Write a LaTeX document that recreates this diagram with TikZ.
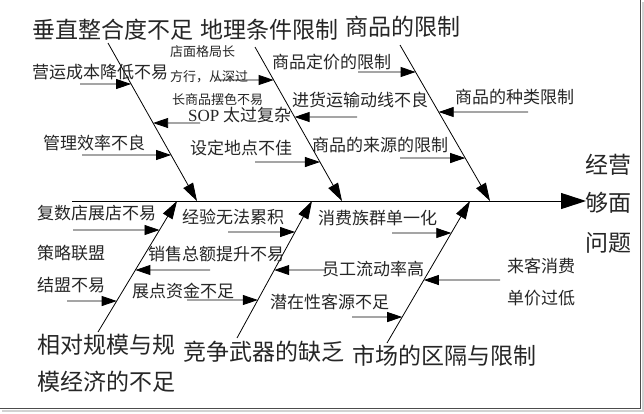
\documentclass[tikz,border=0pt]{standalone}
\usepackage{fontspec}
\setmainfont{Noto Sans CJK SC}
\newfontfamily\latinserif{Liberation Serif}
\usetikzlibrary{arrows.meta}
\newcommand\subarrow[4]{%
  \coordinate (#1s) at (#3,#4);
  \coordinate (#1t) at (intersection of #2s--#2e and 0,#4--1,#4);
  \draw[subarr] (#1s) -- (#1t);}
\begin{document}
\begin{tikzpicture}[x=1pt,y=-1pt,
  big/.style={font=\fontsize{23}{25}\selectfont, anchor=west, inner sep=0pt, text=black!85},
  mid/.style={font=\fontsize{17}{19}\selectfont, anchor=west, inner sep=0pt, text=black!85},
  small/.style={font=\fontsize{13}{15}\selectfont, anchor=west, inner sep=0pt, text=black!85},
  bone/.style={line width=0.8pt, -{Triangle[length=18pt,width=11pt]}},
  subarr/.style={line width=0.8pt, -{Triangle[length=15pt,width=10pt]}},
  spine/.style={line width=1pt, -{Triangle[length=25pt,width=16pt]}}]
\useasboundingbox (0,0) rectangle (644,413);
\fill[white] (0,0) rectangle (644,413);
% frame
\draw[gray!35, line width=2pt] (643,2) -- (643,411) -- (2,411);
\draw[black!70, line width=1.2pt] (640.5,0) -- (640.5,408.5) -- (0,408.5);
% spine
\coordinate (s0) at (72,201);
\coordinate (s1) at (586,201);
\draw[spine] (s0) -- (s1);
% bones
\coordinate (b1s) at (108,43);  \coordinate (b1e) at (197,201);
\coordinate (b2s) at (255,47);  \coordinate (b2e) at (342,201);
\coordinate (b3s) at (400,45);  \coordinate (b3e) at (490,201);
\coordinate (b4s) at (98,332);  \coordinate (b4e) at (177,201);
\coordinate (b5s) at (237,338); \coordinate (b5e) at (312,201);
\coordinate (b6s) at (387,343); \coordinate (b6e) at (470,201);
\foreach \b in {b1,b2,b3,b4,b5,b6} \draw[bone] (\b s) -- (\b e);
% sub arrows
\subarrow{a1}{b1}{80}{84}
\subarrow{a2}{b1}{200}{123}
\subarrow{a3}{b1}{82}{155}
\subarrow{a4}{b2}{215}{80}
\subarrow{a5}{b2}{357}{117}
\subarrow{a6}{b2}{255}{162}
\subarrow{a7}{b3}{358}{72}
\subarrow{a8}{b3}{528}{112}
\subarrow{a9}{b3}{400}{158}
\subarrow{a10}{b4}{73}{230}
\subarrow{a11}{b4}{210}{270}
\subarrow{a12}{b4}{67}{301}
\subarrow{a13}{b5}{228}{232}
\subarrow{a14}{b5}{325}{270}
\subarrow{a15}{b5}{187}{300}
\subarrow{a16}{b6}{392}{233}
\subarrow{a17}{b6}{500}{280}
\subarrow{a18}{b6}{352}{317}
% big labels
\node[big] (t1) at (32,30) {垂直整合度不足};
\node[big] (t2) at (200,30) {地理条件限制};
\node[big] (t3) at (345,27) {商品的限制};
\node[big] (t4) at (37,345) {相对规模与规};
\node[big] (t5) at (37,382) {模经济的不足};
\node[big] (t6) at (183,352) {竞争武器的缺乏};
\node[big] (t7) at (352,356) {市场的区隔与限制};
\node[big] (r1) at (585,165) {经营};
\node[big] (r2) at (585,203) {够面};
\node[big] (r3) at (585,243) {问题};
% medium labels
\node[mid] (m1) at (32,72) {营运成本降低不易};
\node[mid] (m2) at (43,143) {管理效率不良};
\node[mid] (m3) at (188,115) {{\latinserif SOP} 太过复杂};
\node[mid] (m4) at (292,100) {进货运输动线不良};
\node[mid] (m5) at (190,148) {设定地点不佳};
\node[mid] (m6) at (272,62) {商品定价的限制};
\node[mid] (m7) at (455,97) {商品的种类限制};
\node[mid] (m8) at (312,145) {商品的来源的限制};
\node[mid] (m9) at (37,213) {复数店展店不易};
\node[mid] (m10) at (37,253) {策略联盟};
\node[mid] (m11) at (37,285) {结盟不易};
\node[mid] (m12) at (182,217) {经验无法累积};
\node[mid] (m13) at (148,254) {销售总额提升不易};
\node[mid] (m14) at (132,291) {展点资金不足};
\node[mid] (m15) at (322,269) {员工流动率高};
\node[mid] (m16) at (318,218) {消费族群单一化};
\node[mid] (m17) at (270,302) {潜在性客源不足};
\node[mid] (m18) at (507,266) {来客消费};
\node[mid] (m19) at (507,298) {单价过低};
% small labels
\node[small] (n1) at (170,52) {店面格局长};
\node[small] (n2) at (170,77) {方行，从深过};
\node[small] (n3) at (172,100) {长商品摆色不易};
\end{tikzpicture}
\end{document}
